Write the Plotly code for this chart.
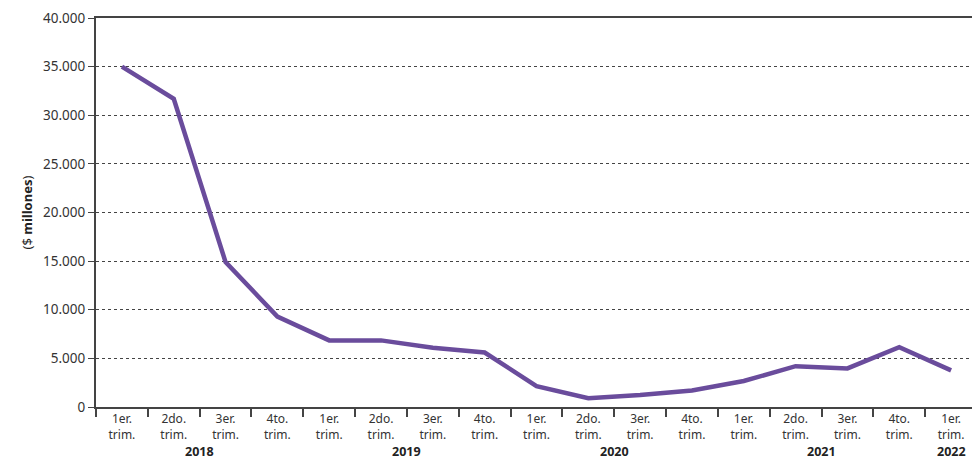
import plotly.graph_objects as go

quarters = ["1er.<br>trim.", "2do.<br>trim.", "3er.<br>trim.", "4to.<br>trim."] * 4 + ["1er.<br>trim."]
years = ["2018", "2019", "2020", "2021", "2022"]
year_pos = [1.5, 5.5, 9.5, 13.5, 16]
values = [35000, 31700, 14900, 9300, 6850, 6850, 6100, 5600,
          2150, 900, 1230, 1700, 2670, 4200, 3970, 6150, 3770]

x = list(range(len(values)))
font = "Noto Sans"

fig = go.Figure()
fig.add_trace(go.Scatter(x=x, y=values, mode="lines",
                         line=dict(color="#6a4c9c", width=4.5),
                         hoverinfo="skip", showlegend=False))

for yr, p in zip(years, year_pos):
    fig.add_annotation(x=p, xref="x", y=0, yref="paper", yshift=-44,
                       text="<b>%s</b>" % yr, showarrow=False, borderpad=0,
                       font=dict(family=font, size=12.5, color="#222"),
                       yanchor="middle")

fig.update_layout(
    width=972, height=452,
    margin=dict(l=88, r=3, t=10, b=53, autoexpand=False),
    paper_bgcolor="white", plot_bgcolor="white",
    separators=",.",
    font=dict(family=font, size=13, color="#333"),
    xaxis=dict(range=[-0.5, 16.5], tickmode="array", tickvals=x, ticktext=quarters,
               ticks="", showgrid=False, zeroline=False, automargin=False,
               showline=True, linecolor="#444", linewidth=1.5, mirror=True,
               tickfont=dict(family=font, size=12, color="#333"),
               minor=dict(tick0=-0.5, dtick=1, ticks="outside", ticklen=8,
                          tickwidth=1.5, tickcolor="#444", showgrid=False)),
    yaxis=dict(range=[0, 40000], dtick=5000, tickformat=",d", automargin=False,
               ticks="outside", ticklen=6, tickcolor="#444", tickwidth=1,
               showgrid=True, gridcolor="#444", griddash="3px,3px", gridwidth=1,
               zeroline=False, showline=True, linecolor="#444", linewidth=2, mirror=True,
               tickfont=dict(family=font, size=13.5, color="#333"),
               title=dict(text="($ <b>millones</b>)", standoff=8,
                          font=dict(family=font, size=13, color="#222"))),
)

fig.write_html("out.html")
